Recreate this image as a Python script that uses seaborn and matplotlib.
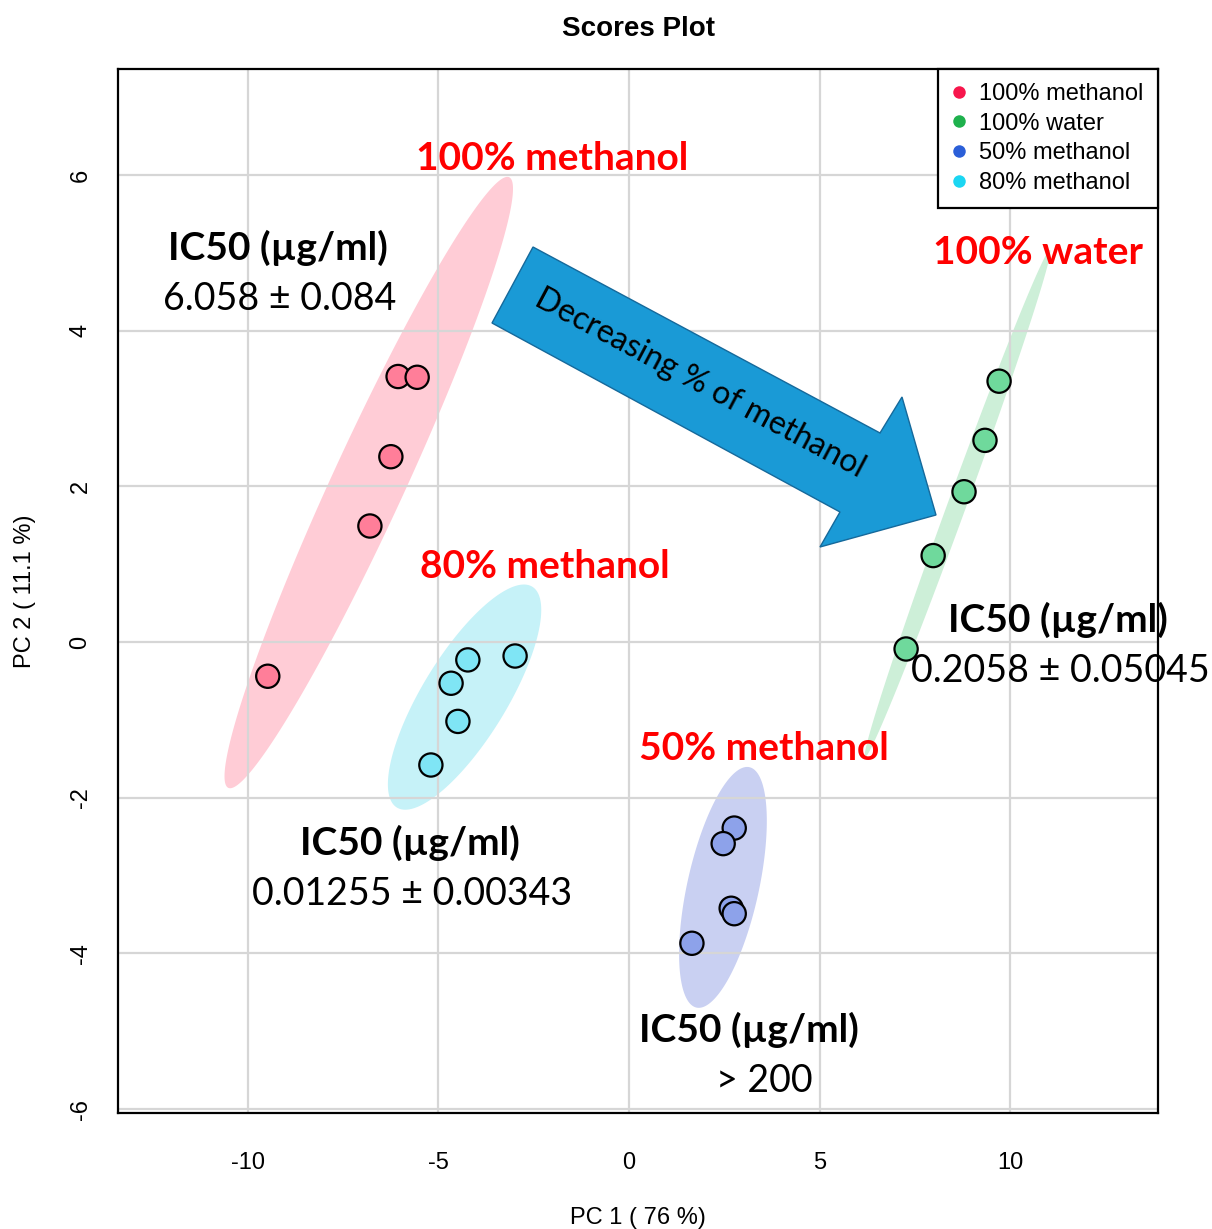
import numpy as np
import pandas as pd
import matplotlib
matplotlib.use("Agg")
import matplotlib.pyplot as plt
import seaborn as sns
from matplotlib.patches import Polygon
from matplotlib.lines import Line2D

# PCA scores
groups = ["100% methanol", "100% water", "50% methanol", "80% methanol"]
meoh100_x = [-6.06, -5.56, -6.25, -6.80, -9.48]
meoh100_y = [3.41, 3.40, 2.38, 1.49, -0.44]
water_x = [9.71, 9.34, 8.79, 7.98, 7.27]
water_y = [3.35, 2.59, 1.93, 1.11, -0.09]
meoh50_x = [2.76, 2.47, 2.68, 2.76, 1.65]
meoh50_y = [-2.39, -2.59, -3.42, -3.49, -3.87]
meoh80_x = [-2.99, -4.23, -4.67, -4.49, -5.20]
meoh80_y = [-0.18, -0.23, -0.53, -1.02, -1.58]

legend_colors = ["#F7164C", "#1EB14D", "#2B5FD8", "#1BD6F2"]
point_colors = ["#FF7E99", "#6FD99C", "#8DA2EA", "#7FE5F5"]
ellipse_colors = ["#FFCCD6", "#CDEFD8", "#C9D0F2", "#C6F2F8"]

ic50_text = ["6.058 ± 0.084", "0.2058 ± 0.05045", "> 200", "0.01255 ± 0.00343"]

df = pd.DataFrame({
    "PC1": meoh100_x + water_x + meoh50_x + meoh80_x,
    "PC2": meoh100_y + water_y + meoh50_y + meoh80_y,
    "group": sum([[g] * 5 for g in groups], []),
})

W, H = 1212, 1229
sns.set_style("white")
plt.rcParams["font.family"] = ["Liberation Sans", "DejaVu Sans"]
plt.rcParams["axes.unicode_minus"] = False
plt.rcParams["text.color"] = "black"
plt.rcParams["axes.labelcolor"] = "black"
plt.rcParams["xtick.color"] = "black"
plt.rcParams["ytick.color"] = "black"

fig = plt.figure(figsize=(W / 100, H / 100), dpi=100)
ax = fig.add_axes([118 / W, 1 - 1113 / H, (1158 - 118) / W, (1113 - 69) / H])


def px(x, y):
    return x / W, 1 - y / H


# 95% confidence ellipses computed from the scores
def conf_ellipse(x, y, k=np.sqrt(5.991), n=300):
    x = np.asarray(x); y = np.asarray(y)
    vals, vecs = np.linalg.eigh(np.cov(x, y))
    t = np.linspace(0, 2 * np.pi, n)
    circ = np.vstack([np.cos(t), np.sin(t)])
    pts = vecs @ (np.sqrt(vals)[:, None] * circ) * k
    return pts[0] + x.mean(), pts[1] + y.mean()


for g, c in zip(groups, ellipse_colors):
    sub = df[df.group == g]
    ex, ey = conf_ellipse(sub.PC1, sub.PC2)
    ax.fill(ex, ey, color=c, lw=0, zorder=0.2)

ax.set_axisbelow(True)
ax.grid(True, color="#D6D6D6", lw=1.6)

# the big arrow
arrow_pts = [(533, 247), (880, 433), (902, 397), (936, 515), (820, 547), (840, 512), (492, 323)]
ax.add_patch(Polygon([px(*p) for p in arrow_pts], closed=True, transform=fig.transFigure,
                     facecolor="#1A9AD6", edgecolor="#15699B", lw=1, zorder=3))

sns.scatterplot(data=df, x="PC1", y="PC2", hue="group", palette=dict(zip(groups, point_colors)),
                s=280, edgecolor="black", linewidth=1.6, legend=False, ax=ax, zorder=4)

ax.set_xlim(-13.41, 13.88)
ax.set_ylim(-6.05, 7.36)
ax.set_xticks([-10, -5, 0, 5, 10])
ax.set_yticks([-6, -4, -2, 0, 2, 4, 6])
ax.set_xlabel("PC 1 ( 76 %)", fontsize=17, labelpad=24)
ax.set_ylabel("PC 2 ( 11.1 %)", fontsize=17, labelpad=24)
ax.tick_params(axis="both", direction="out", length=11, width=1.3, labelsize=17, color="black")
ax.tick_params(axis="x", pad=17)
ax.tick_params(axis="y", pad=8, labelrotation=90)
for lab in ax.get_yticklabels():
    lab.set_va("center")
for sp in ax.spines.values():
    sp.set_visible(True)
    sp.set_color("black")
    sp.set_linewidth(1.6)

fig.text(*px(638, 29), "Scores Plot", ha="center", va="center", fontsize=20, fontweight="bold")

handles = [Line2D([], [], marker="o", ls="none", markersize=9, markerfacecolor=c, markeredgewidth=0)
           for c in legend_colors]
leg = ax.legend(handles, groups, loc="upper right", bbox_to_anchor=(1, 1), borderaxespad=0,
                fontsize=17, frameon=True, fancybox=False, framealpha=1, edgecolor="black",
                handlelength=0.6, handletextpad=0.55, labelspacing=0.32, borderpad=0.6)
leg.get_frame().set_linewidth(1.6)
leg.set_zorder(6)

# annotations
afont = ["Lato", "DejaVu Sans"]
red_labels = [("100% methanol", 552, 158), ("100% water", 1038, 253),
              ("50% methanol", 764, 748), ("80% methanol", 545, 567)]
for txt, x, y in red_labels:
    fig.text(*px(x, y), txt, color="#FF0000", fontsize=28, fontweight="bold",
             ha="center", va="center", family=afont)

ic50_pos = [(278, 248), (1058, 620), (749, 1030), (410, 843)]
for t, (x, y) in zip(ic50_text, ic50_pos):
    fig.text(*px(x, y), "IC50 (µg/ml)", fontsize=28, fontweight="bold", ha="center", va="center", family=afont)
    fig.text(*px(x + (15 if t == "> 200" else 2), y + 51), t, fontsize=27, ha="center", va="center", family=afont)

fig.text(*px(700, 383), "Decreasing % of methanol", fontsize=23, rotation=-28,
         ha="center", va="center", rotation_mode="anchor", family=afont, zorder=7)

fig.savefig("out.png", dpi=100)
